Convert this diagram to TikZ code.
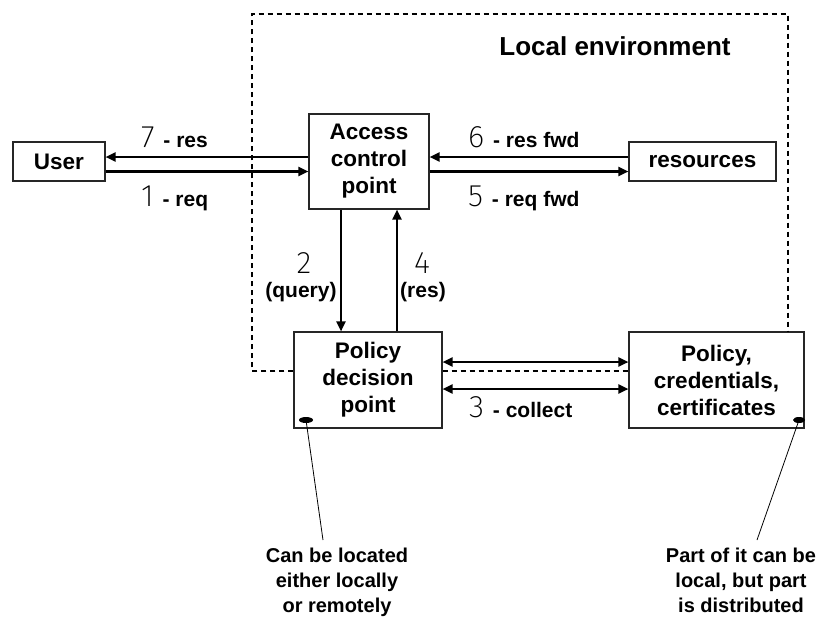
\documentclass[tikz,border=0pt]{standalone}
\usepackage{fontspec}
\setmainfont{Liberation Sans}
\newfontfamily\digitfont{Fira Sans ExtraLight}
\usetikzlibrary{arrows.meta}

\newcommand{\boxfont}{\bfseries\fontsize{22.5}{27}\selectfont}
\newcommand{\labfont}{\bfseries\fontsize{21}{24}\selectfont}
\newcommand{\stepnum}[1]{{\digitfont\mdseries\fontsize{31}{31}\selectfont #1}\hspace{3pt}}

\tikzset{
  box/.style={draw=black!85, line width=1.1pt, fill=white, inner sep=0pt,
              align=center, font=\boxfont},
  arr/.style={line width=2.2pt, -{Triangle[length=10pt,width=9pt]}},
  darr/.style={line width=2.2pt, {Triangle[length=10pt,width=9pt]}-{Triangle[length=10pt,width=9pt]}},
  frame/.style={line width=1.3pt, dash pattern=on 5pt off 4pt},
  lead/.style={line width=0.8pt},
  lab/.style={inner sep=0pt, font=\labfont},
  note/.style={inner sep=0pt, align=center, font=\bfseries\fontsize{20}{25}\selectfont}
}

\begin{document}
\begin{tikzpicture}[x=1pt,y=-1pt]
  \useasboundingbox (0,0) rectangle (819,619);

  % boxes
  \node[box, minimum width=92pt,  minimum height=39pt] (user) at (59,161.5)   {User};
  \node[box, minimum width=120pt, minimum height=95pt] (acp)  at (369,161.5)  {Access\\control\\point};
  \node[box, minimum width=147pt, minimum height=39pt] (res)  at (702.5,161.5) {resources};
  \node[box, minimum width=148pt, minimum height=96pt] (pdp)  at (368,380)    {Policy\\decision\\point};
  \node[box, minimum width=175pt, minimum height=96pt] (pol)  at (716.5,380)  {Policy,\\credentials,\\certificates};

  % local environment boundary
  \draw[frame] ([yshift=9pt]pdp.west) -- (252,371) -- (252,14) -- (788,14) -- (788,0 |- pol.north);
  \draw[frame] ([yshift=9pt]pdp.east) -- ([yshift=9pt]pdp.east -| pol.west);
  \node[inner sep=0pt, font=\bfseries\fontsize{26}{30}\selectfont] (env) at (615,46) {Local environment};

  % user <-> access control point
  \draw[arr] ([yshift=4.5pt]acp.west) -- ([yshift=4.5pt]user.east);
  \draw[arr] ([yshift=-10pt]user.east) -- ([yshift=-10pt]acp.west);
  % access control point <-> resources
  \draw[arr] ([yshift=4.5pt]res.west) -- ([yshift=4.5pt]acp.east);
  \draw[arr] ([yshift=-10pt]acp.east) -- ([yshift=-10pt]res.west);
  % access control point <-> decision point
  \draw[arr] ([xshift=-28pt]acp.south) -- ([xshift=-28pt]acp.south |- pdp.north);
  \draw[arr] ([xshift=29pt]pdp.north) -- ([xshift=29pt]pdp.north |- acp.south);
  % decision point <-> policy store
  \draw[darr] ([yshift=18pt]pdp.east) -- ([yshift=18pt]pdp.east -| pol.west);
  \draw[darr] ([yshift=-9pt]pdp.east) -- ([yshift=-9pt]pdp.east -| pol.west);

  % step labels
  \node[lab, anchor=base west] (l7) at (141,147) {\stepnum{7} - res};
  \node[lab, anchor=base west] (l1) at (141,206) {\stepnum{1} - req};
  \node[lab, anchor=base west] (l6) at (468,147) {\stepnum{6} - res fwd};
  \node[lab, anchor=base west] (l5) at (468,206) {\stepnum{5} - req fwd};
  \node[lab, anchor=base] (n2) at (304,273) {{\digitfont\mdseries\fontsize{31}{31}\selectfont 2}};
  \node[lab, anchor=base] (q2) at (301,297) {(query)};
  \node[lab, anchor=base] (n4) at (422,273) {{\digitfont\mdseries\fontsize{31}{31}\selectfont 4}};
  \node[lab, anchor=base] (q4) at (423,297) {(res)};
  \node[lab, anchor=base west] (l3) at (469,417) {\stepnum{3} - collect};

  % annotation markers and leaders
  \coordinate (d1) at (306,420);
  \coordinate (d2) at (799,420);
  \fill (d1) ellipse (7pt and 3pt);
  \fill (d2) ellipse (6pt and 3pt);
  \node[note, anchor=north] (t1) at (337,548) {Can be located\\either locally\\or remotely};
  \node[note, anchor=north] (t2) at (741,548) {Part of it can be\\local, but part\\is distributed};
  \coordinate (e1) at (323,540);
  \coordinate (e2) at (757,540);
  \draw[lead] (d1) -- (e1);
  \draw[lead] (d2) -- (e2);
\end{tikzpicture}
\end{document}
